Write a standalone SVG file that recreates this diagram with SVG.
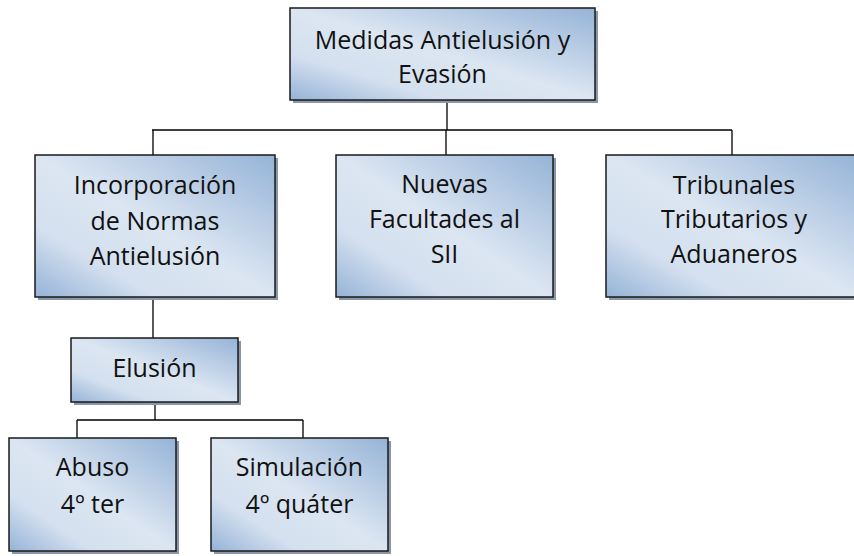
<svg xmlns="http://www.w3.org/2000/svg" width="854" height="556" viewBox="0 0 854 556">
<defs>
<linearGradient id="g" x1="1" y1="0" x2="0" y2="1">
<stop offset="0" stop-color="#95b3d7"/>
<stop offset="0.5" stop-color="#dce6f2"/>
<stop offset="0.75" stop-color="#d4e0ef"/>
<stop offset="1" stop-color="#95b3d7"/>
</linearGradient>
<style>
.sh{fill:#8b97a8}
.bx{fill:url(#g);stroke:#1a1a1a;stroke-width:1.5}
.t{font-family:"Open Sans","Liberation Sans",sans-serif;font-size:25px;fill:#111;text-anchor:middle}
.c{stroke:#000;stroke-width:1.3;fill:none}
</style>
</defs>
<rect width="854" height="556" fill="#fff"/>
<g id="connectors">
<path class="c" d="M447 100V130M152 130H732M153 130V155M446 130V155M732 130V155"/>
<path class="c" d="M153 297V338M155 402V420M77 420H303M77 420V438M303 420V438"/>
</g>
<g id="medidas">
<rect class="sh" x="293" y="11" width="305" height="92"/>
<rect class="bx" x="290" y="8" width="305" height="92"/>
<text class="t" x="442.5" y="49">Medidas Antielusión y</text>
<text class="t" x="442.5" y="83">Evasión</text>
</g>
<g id="incorporacion">
<rect class="sh" x="38" y="158" width="240" height="142"/>
<rect class="bx" x="35" y="155" width="240" height="142"/>
<text class="t" x="155" y="194">Incorporación</text>
<text class="t" x="155" y="230">de Normas</text>
<text class="t" x="155" y="265">Antielusión</text>
</g>
<g id="nuevas">
<rect class="sh" x="339" y="158" width="217" height="142"/>
<rect class="bx" x="336" y="155" width="217" height="142"/>
<text class="t" x="444.5" y="193">Nuevas</text>
<text class="t" x="444.5" y="228">Facultades al</text>
<text class="t" x="444.5" y="263">SII</text>
</g>
<g id="tribunales">
<rect class="sh" x="609" y="158" width="252" height="142"/>
<rect class="bx" x="606" y="155" width="252" height="142"/>
<text class="t" x="734" y="194">Tribunales</text>
<text class="t" x="734" y="228">Tributarios y</text>
<text class="t" x="734" y="263">Aduaneros</text>
</g>
<g id="elusion">
<rect class="sh" x="74" y="341" width="167" height="64"/>
<rect class="bx" x="71" y="338" width="167" height="64"/>
<text class="t" x="154.5" y="377">Elusión</text>
</g>
<g id="abuso">
<rect class="sh" x="12" y="441" width="167" height="113"/>
<rect class="bx" x="9" y="438" width="167" height="113"/>
<text class="t" x="92.5" y="476">Abuso</text>
<text class="t" x="92.5" y="513">4º ter</text>
</g>
<g id="simulacion">
<rect class="sh" x="214" y="441" width="177" height="113"/>
<rect class="bx" x="211" y="438" width="177" height="113"/>
<text class="t" x="299.5" y="476">Simulación</text>
<text class="t" x="299.5" y="513">4º quáter</text>
</g>
</svg>
